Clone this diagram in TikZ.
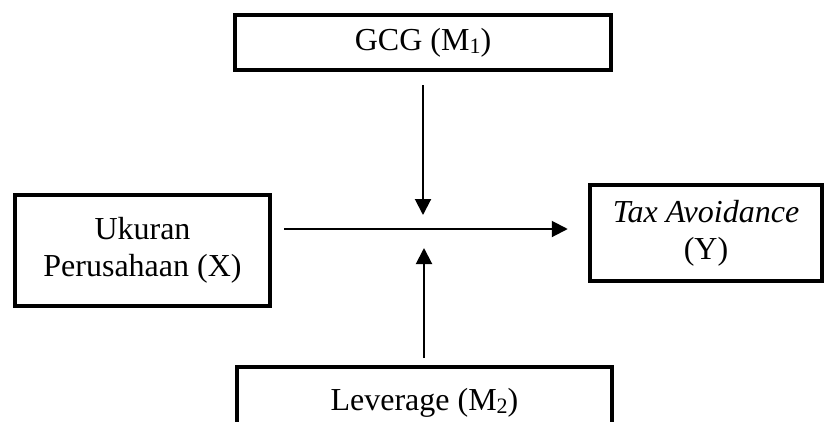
\documentclass[tikz,border=0pt]{standalone}
\usepackage{fontspec}
\setmainfont{Liberation Serif}
\usetikzlibrary{arrows.meta}
\newcommand{\subidx}[1]{\raisebox{-0.1em}{\fontsize{22}{22}\selectfont #1}}
\begin{document}
\begin{tikzpicture}[x=1pt,y=-1pt,
  box/.style={draw,line width=4.5pt,rectangle,inner sep=0pt,align=center,
    font=\fontsize{32}{37}\selectfont},
  conn/.style={line width=2pt,-{Triangle[length=16pt,width=16pt]}}]
\useasboundingbox (0,0) rectangle (824,421);
\clip (0,0) rectangle (824,421);
\node[box,minimum width=376pt,minimum height=55pt] (gcg) at (423,42.5) {\raisebox{-0.12em}{GCG (M\subidx{1})}};
\node[box,minimum width=255pt,minimum height=111pt] (x) at (142.5,250.5) {Ukuran\\Perusahaan (X)};
\node[box,minimum width=232pt,minimum height=96pt] (y) at (706,233) {\textit{Tax Avoidance}\\(Y)};
\node[box,minimum width=375pt,minimum height=72pt] (lev) at (424.5,403) {Leverage (M\subidx{2})};
\coordinate (hs) at ([xshift=12pt]x.east |- 0,229);
\coordinate (he) at ([xshift=-20pt]y.west |- 0,229);
\coordinate (ds) at (423,85);
\coordinate (de) at (423,215);
\coordinate (us) at (424,358);
\coordinate (ue) at (424,248);
\draw[conn] (hs) -- (he);
\draw[conn] (ds) -- (de);
\draw[conn] (us) -- (ue);
\end{tikzpicture}
\end{document}
